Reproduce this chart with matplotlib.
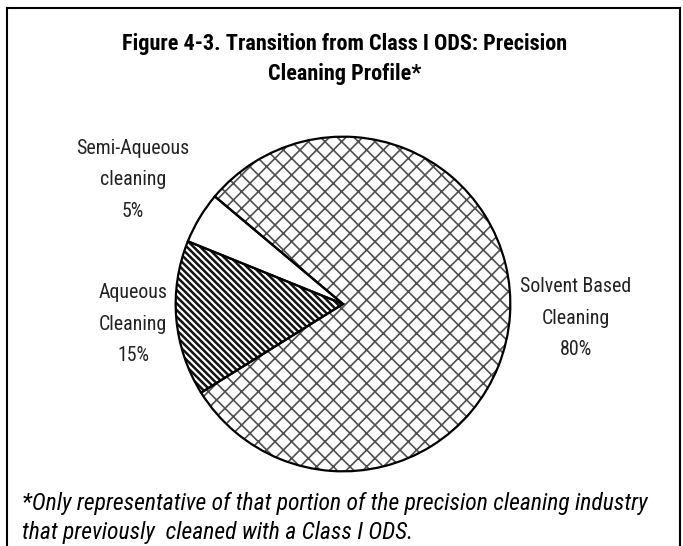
import matplotlib
matplotlib.use("Agg")
import matplotlib.pyplot as plt
from matplotlib.lines import Line2D
from matplotlib import font_manager

# slice order follows the chart: clockwise from the top-left
LABELS = ["Solvent Based\nCleaning", "Aqueous\nCleaning", "Semi-Aqueous\ncleaning"]
SHARES = [80, 15, 5]
HATCHES = ["xx", "\\" * 5, ""]
HATCH_COLORS = ["#505050", "#111111", "white"]
HATCH_LW = [1.2, 1.8, 1.0]

names = {f.name for f in font_manager.fontManager.ttflist}
NARROW = next((n for n in ["Liberation Sans Narrow", "Roboto Condensed",
                           "Archivo Narrow", "PT Sans Narrow"] if n in names),
              "DejaVu Sans")
plt.rcParams["font.family"] = [NARROW, "DejaVu Sans"]
plt.rcParams["hatch.linewidth"] = 1.3

W, H = 683, 546
fig = plt.figure(figsize=(W / 100, H / 100), dpi=100)

# pie centre (343, 304) px, radius 169 px
cx, cy, r = 343, 304, 169
ax = fig.add_axes([(cx - r) / W, (H - cy - r) / H, 2 * r / W, 2 * r / H])

wedges, _ = ax.pie(SHARES, startangle=140, counterclock=False, radius=1,
                   wedgeprops=dict(linewidth=0, facecolor="white"))
for w, h, c, lw in zip(wedges, HATCHES, HATCH_COLORS, HATCH_LW):
    w.set_hatch(h)
    w.set_edgecolor(c)
    if hasattr(w, "set_hatch_linewidth"):
        w.set_hatch_linewidth(lw)
ax.pie(SHARES, startangle=140, counterclock=False, radius=1,
       wedgeprops=dict(fill=False, edgecolor="black", linewidth=1.6))
ax.set_xlim(-1.01, 1.01)
ax.set_ylim(-1.01, 1.01)
ax.axis("off")

# slice labels
label_pos = [(576, 318), (133, 324), (133, 180)]
for lab, v, (x, y) in zip(LABELS, SHARES, label_pos):
    fig.text(x / W, 1 - y / H, f"{lab}\n{v}%", ha="center", va="center",
             fontsize=14.3, color="#222222", linespacing=1.82)

fig.text(345 / W, 1 - 59 / H,
          "Figure 4-3. Transition from Class I ODS: Precision\nCleaning Profile*",
          ha="center", va="center", fontsize=16, fontweight="bold",
          linespacing=1.45)

fig.text(22 / W, 1 - 518 / H,
          "*Only representative of that portion of the precision cleaning industry\n"
          "that previously  cleaned with a Class I ODS.",
          ha="left", va="center", fontsize=17, style="italic", linespacing=1.3)

# outer frame (open at the bottom)
for xs, ys in [([7, 7], [H + 5, 8]), ([7, 680], [8, 8]), ([680, 680], [8, H + 5])]:
    fig.add_artist(Line2D([x / W for x in xs], [1 - y / H for y in ys],
                          transform=fig.transFigure, color="black", lw=1.5))

fig.savefig("out.png", dpi=100)
